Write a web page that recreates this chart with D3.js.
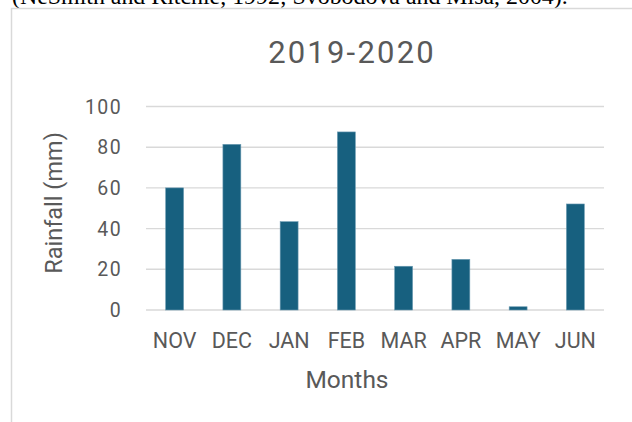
<!DOCTYPE html>
<html>
<head>
<meta charset="utf-8">
<script src="https://cdn.jsdelivr.net/npm/d3@7"></script>
<style>
  html, body { margin: 0; padding: 0; background: #fff; }
  svg { display: block; }
</style>
</head>
<body>
<svg id="chart" width="632" height="422"></svg>
<script>
// Monthly rainfall, season 2019-2020
const months = ["NOV", "DEC", "JAN", "FEB", "MAR", "APR", "MAY", "JUN"];
const rainfall = [60, 81.4, 43.4, 87.5, 21.5, 24.9, 1.6, 52.1];
const yTicks = [0, 20, 40, 60, 80, 100];
const chartTitle = "2019-2020";
const xTitle = "Months";
const yTitle = "Rainfall (mm)";
const caption = "(NeSmith and Ritchie, 1992; Svobodova and Misa, 2004).";

const svg = d3.select("#chart");
const textColor = "#595959";
const gridColor = "#d9d9d9";
const barColor = "#17607f";
const font = "Roboto, 'Liberation Sans', Arial, sans-serif";

svg.append("rect").attr("width", 632).attr("height", 422).attr("fill", "#fff");

// Running text of the surrounding page, cut off at the top edge
const cap = svg.append("text")
  .attr("x", 12).attr("y", 4)
  .attr("font-family", "'Liberation Serif', 'Times New Roman', serif")
  .attr("font-size", 20)
  .attr("fill", "#000")
  .text(caption);
const capW = cap.node().getComputedTextLength();
cap.attr("font-size", 20 * 556 / capW);

// Chart area frame
svg.append("rect")
  .attr("x", 11.5).attr("y", 8.5)
  .attr("width", 700).attr("height", 500)
  .attr("fill", "#fff")
  .attr("stroke", gridColor).attr("stroke-width", 1.5);

const x = d3.scaleBand()
  .domain(months)
  .range([146, 604])
  .paddingInner(0.687)
  .paddingOuter(0.3435);

const y = d3.scaleLinear().domain([0, 100]).range([310, 106.5]);

// Horizontal gridlines
svg.append("g")
  .selectAll("line")
  .data(yTicks)
  .join("line")
  .attr("x1", 146).attr("x2", 604)
  .attr("y1", d => y(d)).attr("y2", d => y(d))
  .attr("stroke", gridColor).attr("stroke-width", 1.4);

// Value axis labels
svg.append("g")
  .selectAll("text")
  .data(yTicks)
  .join("text")
  .attr("x", 122)
  .attr("y", d => y(d))
  .attr("dy", "0.36em")
  .attr("text-anchor", "end")
  .attr("font-family", font)
  .attr("font-size", 19.5)
  .attr("letter-spacing", 1.4)
  .attr("fill", textColor)
  .text(d => d);

// Bars
svg.append("g")
  .selectAll("rect")
  .data(months.map((m, i) => ({ m, v: rainfall[i] })))
  .join("rect")
  .attr("x", d => x(d.m))
  .attr("y", d => y(d.v))
  .attr("width", x.bandwidth())
  .attr("height", d => y(0) - y(d.v))
  .attr("fill", barColor)
  .attr("stroke", "#6b9bb2")
  .attr("stroke-width", 0.6);

// Category labels
svg.append("g")
  .selectAll("text")
  .data(months)
  .join("text")
  .attr("x", d => x(d) + x.bandwidth() / 2)
  .attr("y", 347.7)
  .attr("text-anchor", "middle")
  .attr("font-family", font)
  .attr("font-size", 21.5)
  .attr("fill", textColor)
  .text(d => d);

// Chart title
svg.append("text")
  .attr("x", 352).attr("y", 62.7)
  .attr("text-anchor", "middle")
  .attr("font-family", font)
  .attr("font-size", 31)
  .attr("letter-spacing", 2.2)
  .attr("fill", textColor)
  .text(chartTitle);

// Axis titles
svg.append("text")
  .attr("x", 347).attr("y", 387.7)
  .attr("text-anchor", "middle")
  .attr("font-family", font)
  .attr("font-size", 24.5)
  .attr("fill", textColor)
  .text(xTitle);

svg.append("text")
  .attr("transform", "translate(61.5,203) rotate(-90)")
  .attr("text-anchor", "middle")
  .attr("font-family", font)
  .attr("font-size", 23.5)
  .attr("fill", textColor)
  .text(yTitle);
</script>
</body>
</html>
